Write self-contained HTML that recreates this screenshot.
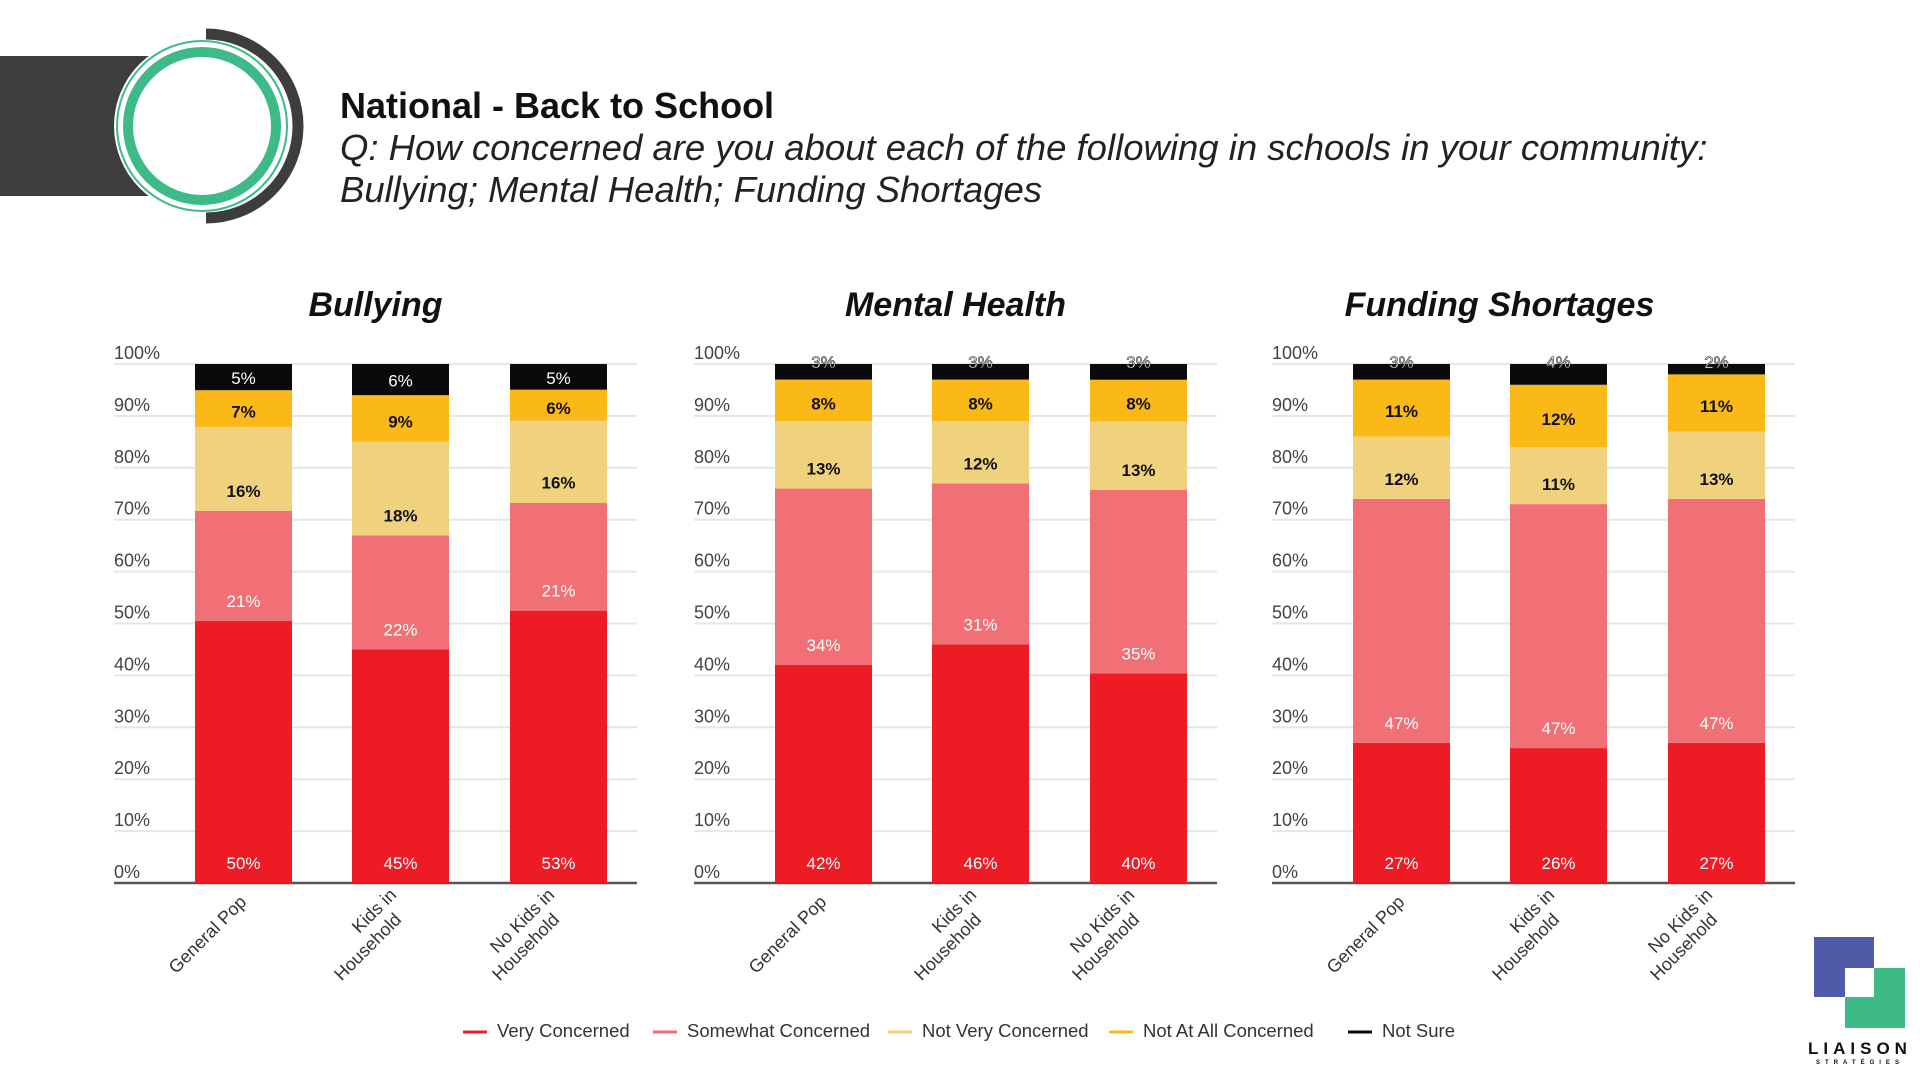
<!DOCTYPE html>
<html><head><meta charset="utf-8"><style>
body{margin:0;width:1920px;height:1080px;background:#fff;overflow:hidden;font-family:"Liberation Sans",sans-serif;}
svg{display:block}
</style></head><body>
<svg id="s" width="1920" height="1080">
<rect x="0" y="56" width="150" height="140" fill="#3d3d3d"/>
<circle cx="202" cy="126" r="88" fill="#fff"/>
<path d="M 206 34 A 92 92 0 0 1 206 218" fill="none" stroke="#3d3d3d" stroke-width="11"/>
<circle cx="202" cy="126" r="85" fill="none" stroke="#3dba86" stroke-width="2"/>
<circle cx="202" cy="126" r="74" fill="none" stroke="#3dba86" stroke-width="10"/>
<text x="340" y="118" font-size="36" font-weight="bold" fill="#111">National - Back to School</text>
<text x="340" y="160" font-size="36.5" font-style="italic" fill="#222">Q: How concerned are you about each of the following in schools in your community:</text>
<text x="340" y="202" font-size="36.5" font-style="italic" fill="#222">Bullying; Mental Health; Funding Shortages</text>
<g>
<rect x="1814" y="937" width="60" height="60" fill="#4f5aa8"/>
<rect x="1845" y="968" width="60" height="60" fill="#3dba86"/>
<rect x="1845" y="968" width="29" height="29" fill="#fff"/>
<text x="1860" y="1054" font-size="17" font-weight="bold" text-anchor="middle" letter-spacing="5" fill="#111">LIAISON</text>
<text x="1860" y="1064" font-size="6" font-weight="bold" text-anchor="middle" letter-spacing="5" fill="#111">STRATÉGIES</text>
</g>
</svg>
<script>
const series = ["Very Concerned","Somewhat Concerned","Not Very Concerned","Not At All Concerned","Not Sure"];
const colors = ["#ed1c24","#f07075","#f0d27e","#fbb917","#0a0a0c"];
const categories = ["General Pop","Kids in|Household","No Kids in|Household"];
const panels = ["Bullying","Mental Health","Funding Shortages"];
const bullying = [[50,21,16,7,5],[45,22,18,9,6],[53,21,16,6,5]];
const mentalHealth = [[42,34,13,8,3],[46,31,12,8,3],[40,35,13,8,3]];
const funding = [[27,47,12,11,3],[26,47,11,12,4],[27,47,13,11,2]];
const yTicks = [0,10,20,30,40,50,60,70,80,90,100];
const panelData = [bullying, mentalHealth, funding];
const NS="http://www.w3.org/2000/svg";
const svg=document.getElementById('s');
function mk(t,a,p){const e=document.createElementNS(NS,t);for(const k in a)e.setAttribute(k,a[k]);(p||svg).appendChild(e);return e;}
const y0=883,y100=364;
function yScale(v){return y0-(y0-y100)*v/100;}
const panelX=[114,694,1272], panelW=523, barW=97, barOff=[81,238,396];
const titleShift=[0,0,-34];
panelData.forEach((data,pi)=>{
  const g=mk('g',{});
  
  
  const px=panelX[pi];
  const t=mk('text',{x:px+panelW/2+titleShift[pi],y:316,'font-size':34,'font-weight':'bold','font-style':'italic','text-anchor':'middle',fill:'#111'},g);
  t.textContent=panels[pi];
  
  
  yTicks.forEach(v=>{
    const l=mk('line',{x1:px,x2:px+panelW,y1:yScale(v),y2:yScale(v),stroke:v==0?'#555':'#e6e6e6','stroke-width':v==0?2.5:2},g);
    
    
    const tx=mk('text',{x:px,y:yScale(v)-5,'font-size':18,fill:'#444'},g);
    tx.textContent=v+'%';
    
    
  });
  data.forEach((vals,ci)=>{
    const bx=px+barOff[ci];
    const total=vals.reduce((a,b)=>a+b,0);
    let cum=0;
    vals.forEach((v,si)=>{
      const top=(cum+v)*100/total, ya=yScale(top), yb=yScale(cum*100/total);
      const r=mk('rect',{x:bx,y:ya,width:barW,height:Math.max(0,yb-ya),fill:colors[si]},g);
      
      
      let ly;
      if(si<=2) ly=yb-14;
      else if(si==3) ly=(ya+yb)/2+9;
      else ly=(ya+yb)/2+7;
      const dark=(si==2||si==3);
      const lt=mk('text',{x:bx+barW/2,y:ly,'font-size':17,'text-anchor':'middle',fill:dark?'#111':'#fff','font-weight':dark?'bold':'normal'},g);
      if(si==4&&v<=4){lt.setAttribute('stroke','#222');lt.setAttribute('stroke-width','0.6');lt.setAttribute('y',yScale(100)+4);}
      lt.textContent=v+'%';
      
      
      cum+=v;
    });
    const parts=categories[ci].split('|');
    const cx=bx+barW/2+4, cy=y0+20;
    const xt=mk('text',{transform:`translate(${cx},${cy}) rotate(-45)`,'font-size':18,'text-anchor':'end',fill:'#333'},g);
    parts.forEach((p,i)=>{const ts=mk('tspan',{x:0,dy:i==0?(parts.length==1?0:-10):21},xt);ts.textContent=p;
      if(i==1){ts.setAttribute('x',-14);} });
    
    
  });
});
const legX=[463,653,888,1109,1348];
series.forEach((s,i)=>{
  const g=mk('g',{});
  
  
  mk('line',{x1:legX[i],x2:legX[i]+24,y1:1032,y2:1032,stroke:colors[i],'stroke-width':3},g);
  const t=mk('text',{x:legX[i]+34,y:1037,'font-size':18.5,fill:'#333'},g);
  t.textContent=s;
});
</script>
</body></html>
